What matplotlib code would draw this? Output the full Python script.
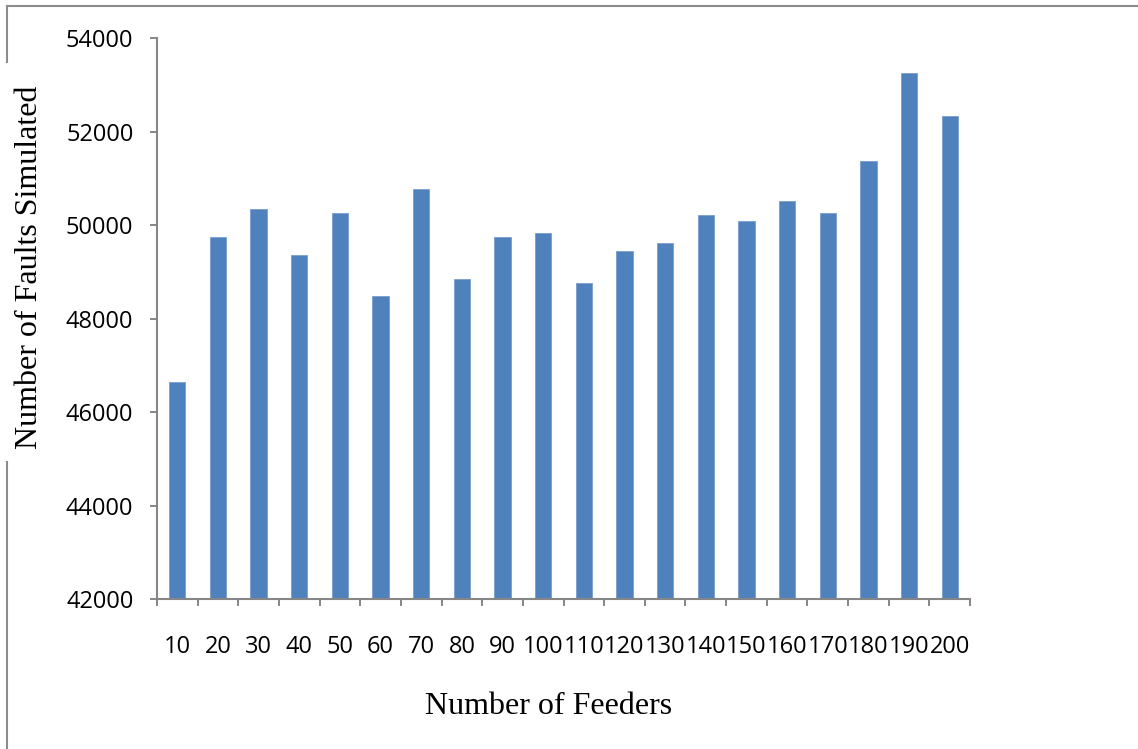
import numpy as np
import matplotlib
matplotlib.use('Agg')
import matplotlib.pyplot as plt
from matplotlib.lines import Line2D

# Daten
feeders = [10, 20, 30, 40, 50, 60, 70, 80, 90, 100,
           110, 120, 130, 140, 150, 160, 170, 180, 190, 200]
faults = [46635, 49740, 50340, 49365, 50260, 48475, 50770, 48850, 49740, 49835,
          48765, 49450, 49620, 50220, 50090, 50520, 50260, 51365, 53250, 52345]
y_ticks = [42000, 44000, 46000, 48000, 50000, 52000, 54000]

axis_grey = '#868686'
bar_blue = '#4F81BD'

fig = plt.figure(figsize=(11.38, 7.49), dpi=100)
ax = fig.add_axes([157 / 1138, 1 - 599 / 749, (970 - 157) / 1138, (599 - 38.3) / 749])

x = np.arange(len(feeders))
ax.bar(x, faults, width=0.4, color=bar_blue, edgecolor='#7A9DCB', linewidth=0.6, zorder=2)

ax.set_xlim(-0.5, len(feeders) - 0.5)
ax.set_ylim(y_ticks[0], y_ticks[-1])
ax.set_yticks(y_ticks)
ax.set_yticklabels([str(v) for v in y_ticks], fontsize=17, family='Open Sans')

# Kategorie-Labels in der Mitte, Striche an den Grenzen
ax.set_xticks(x)
ax.set_xticklabels([str(f) for f in feeders], fontsize=17, family='Open Sans')
ax.set_xticks(np.arange(-0.5, len(feeders)), minor=True)
ax.tick_params(axis='x', which='major', length=0, pad=26)
ax.tick_params(axis='x', which='minor', length=5, width=1.4, color=axis_grey, direction='out')
ax.tick_params(axis='y', length=5, width=1.4, color=axis_grey, direction='out', pad=12)

for s in ['top', 'right']:
    ax.spines[s].set_visible(False)
for s in ['left', 'bottom']:
    ax.spines[s].set_color(axis_grey)
    ax.spines[s].set_linewidth(1.5)

fig.text(549 / 1138, 1 - 707 / 749, 'Number of Feeders', family='Liberation Serif',
         fontsize=23, ha='center', va='center')
fig.text(30 / 1138, 1 - 267 / 749, 'Number of Faults Simulated', family='Liberation Serif',
         fontsize=23, ha='center', va='center', rotation=90)

# Rahmen (oben und links, links durch die Achsenbeschriftung unterbrochen)
W, H = 1138, 749
frame = dict(color='#8C8C8C', linewidth=1.5, transform=fig.transFigure)
fig.add_artist(Line2D([7 / W, 1.0], [1 - 6 / H, 1 - 6 / H], **frame))
fig.add_artist(Line2D([7 / W, 7 / W], [1 - 6 / H, 1 - 62 / H], **frame))
fig.add_artist(Line2D([7 / W, 7 / W], [1 - 462 / H, 0.0], **frame))

fig.savefig('out.png', dpi=100)
